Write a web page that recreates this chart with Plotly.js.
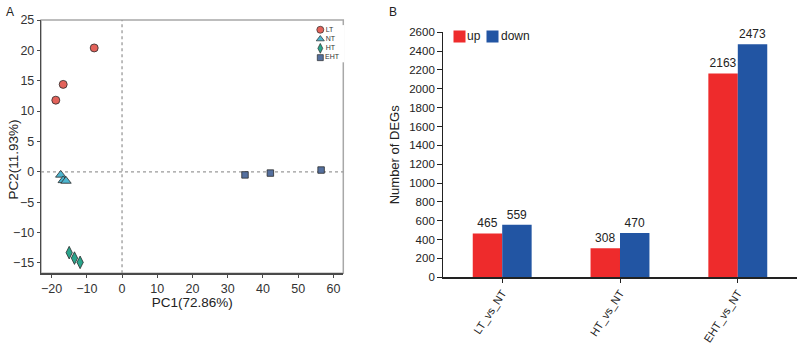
<!DOCTYPE html>
<html>
<head>
<meta charset="utf-8">
<script src="https://cdn.plot.ly/plotly-3.0.1.min.js"></script>
<style>
  html, body { margin: 0; padding: 0; background: #fff; }
  #chart { width: 797px; height: 346px; }
</style>
</head>
<body>
<div id="chart"></div>
<script>
// ---- PCA scores (panel A) ----
const groups = ['LT', 'NT', 'HT', 'EHT'];
const pc1_LT  = [-18.8, -16.7, -7.9];
const pc2_LT  = [11.8, 14.4, 20.4];
const pc1_NT  = [-17.4, -16.7, -15.9];
const pc2_NT  = [-0.5, -1.4, -1.5];
const pc1_HT  = [-15.0, -13.5, -11.9];
const pc2_HT  = [-13.3, -14.2, -14.9];
const pc1_EHT = [34.9, 42.1, 56.5];
const pc2_EHT = [-0.5, -0.2, 0.3];

// ---- DEG counts (panel B) ----
const comparisons = ['LT_vs_NT', 'HT_vs_NT', 'EHT_vs_NT'];
const degUp   = [465, 308, 2163];
const degDown = [559, 470, 2473];
const seriesNames = ['up', 'down'];

const groupStyle = {
  LT:  {symbol: 'circle',       color: '#e3625a', size: 8},
  NT:  {symbol: 'triangle-up',  color: '#4cb5cf', size: 9},
  HT:  {symbol: 'diamond-tall', color: '#2aa58c', size: 9},
  EHT: {symbol: 'square',       color: '#55709f', size: 6.5}
};
const barColors = {up: '#ee2b2c', down: '#2255a3'};

const pcX = {LT: pc1_LT, NT: pc1_NT, HT: pc1_HT, EHT: pc1_EHT};
const pcY = {LT: pc2_LT, NT: pc2_NT, HT: pc2_HT, EHT: pc2_EHT};

const font = 'Liberation Sans, Arial, sans-serif';
const W = 797, H = 346;
const px = v => v / W;
const py = v => 1 - v / H;

const traces = [];

// PCA scatter
groups.forEach(g => {
  const s = groupStyle[g];
  traces.push({
    type: 'scatter', mode: 'markers', name: g,
    x: pcX[g], y: pcY[g], xaxis: 'x', yaxis: 'y',
    marker: {symbol: s.symbol, color: s.color, size: s.size,
             line: {color: '#2b2b2b', width: 0.8}},
    cliponaxis: false, showlegend: false, hoverinfo: 'x+y+name'
  });
});

// compact key for the PCA groups, drawn on its own small axes
groups.forEach(g => {
  const s = groupStyle[g];
  traces.push({
    type: 'scatter', mode: 'markers+text',
    x: [0], y: [g], xaxis: 'x3', yaxis: 'y3',
    text: [g], textposition: 'middle right',
    textfont: {family: font, size: 7, color: '#333'},
    marker: {symbol: s.symbol, color: s.color,
             size: s.symbol === 'square' ? 6 : 7,
             line: {color: '#2b2b2b', width: 0.7}},
    cliponaxis: false, showlegend: false, hoverinfo: 'skip'
  });
});

// DEG bars
[[seriesNames[0], degUp], [seriesNames[1], degDown]].forEach(([name, vals]) => {
  traces.push({
    type: 'bar', name: name, x: comparisons, y: vals,
    xaxis: 'x2', yaxis: 'y2',
    marker: {color: barColors[name], line: {width: 0}},
    text: vals.map(String), textposition: 'outside',
    textfont: {family: font, size: 12, color: '#222'},
    cliponaxis: false, showlegend: false
  });
});

const axisFont = {family: font, size: 12.5, color: '#333'};

const layout = {
  width: W, height: H,
  margin: {l: 0, r: 0, t: 0, b: 0},
  paper_bgcolor: '#fff', plot_bgcolor: '#fff',
  font: {family: font, color: '#222'},
  showlegend: false,
  barmode: 'group', bargap: 0.5, bargroupgap: 0,
  xaxis: {
    domain: [px(41), px(343.3)], anchor: 'y',
    range: [-23, 62.8], tick0: -20, dtick: 10,
    showgrid: false, zeroline: false,
    showline: true, linecolor: '#4a4a4a', linewidth: 1.2,
    ticks: 'outside', ticklen: 3, tickcolor: '#4a4a4a',
    tickfont: axisFont,
    title: {text: 'PC1(72.86%)', font: {family: font, size: 13.5, color: '#222'}, standoff: 3}
  },
  yaxis: {
    domain: [py(273.3), py(20)], anchor: 'x',
    range: [-16.7, 25], tick0: -15, dtick: 5,
    showgrid: false, zeroline: false,
    showline: true, linecolor: '#4a4a4a', linewidth: 1.2,
    ticks: 'outside', ticklen: 3, tickcolor: '#4a4a4a',
    tickfont: axisFont
  },
  xaxis3: {domain: [px(320.3), px(344)], anchor: 'y3', range: [0, 1],
           visible: false, fixedrange: true},
  yaxis3: {domain: [py(62.3), py(25.1)], anchor: 'x3', type: 'category',
           categoryarray: groups, range: [3.5, -0.5],
           visible: false, fixedrange: true},
  xaxis2: {
    domain: [px(443.3), px(796.7)], anchor: 'y2',
    type: 'category', range: [-0.5, 2.5],
    showgrid: false, zeroline: false,
    showline: true, linecolor: '#222', linewidth: 1.2,
    ticks: 'outside', ticklen: 4, tickcolor: '#222',
    tickangle: -57,
    tickfont: {family: font, size: 11, color: '#222'}
  },
  yaxis2: {
    domain: [py(277.3), py(32.3)], anchor: 'x2',
    range: [0, 2600], dtick: 200,
    showgrid: false, zeroline: false,
    showline: true, linecolor: '#222', linewidth: 1.2,
    ticks: 'outside', ticklen: 5, tickcolor: '#222',
    tickfont: {family: font, size: 11.5, color: '#222'},
    title: {text: 'Number of DEGs', font: {family: font, size: 13, color: '#222'}, standoff: 6}
  },
  shapes: [
    // light frame on top/right of the PCA panel
    {type: 'rect', xref: 'x domain', yref: 'y domain', x0: 0, x1: 1, y0: 0, y1: 1,
     line: {color: '#a8a8a8', width: 1.5}, layer: 'below'},
    // origin reference lines
    {type: 'line', xref: 'x', yref: 'y domain', x0: 0, x1: 0, y0: 0, y1: 1,
     line: {color: '#9a9a9a', width: 1.3, dash: 'dot'}, layer: 'below'},
    {type: 'line', xref: 'x domain', yref: 'y', x0: 0, x1: 1, y0: 0, y1: 0,
     line: {color: '#9a9a9a', width: 1.3, dash: 'dot'}, layer: 'below'}
  ],
  annotations: [
    {text: 'A', xref: 'paper', yref: 'paper', x: px(3.5), y: py(3), xanchor: 'left', yanchor: 'top',
     showarrow: false, font: {family: font, size: 12, color: '#222'}},
    {text: 'B', xref: 'paper', yref: 'paper', x: px(386.5), y: py(3), xanchor: 'left', yanchor: 'top',
     showarrow: false, font: {family: font, size: 12, color: '#222'}},
    // PC2 axis title
    {text: 'PC2(11.93%)', xref: 'paper', yref: 'paper', x: px(12.5), y: py(160),
     xanchor: 'center', yanchor: 'middle', textangle: -90, showarrow: false,
     font: {family: font, size: 13.5, color: '#222'}}
  ]
};

// key for the bar series
const keyPos = [{box: 453.3, label: 465.5}, {box: 486, label: 499}];
seriesNames.forEach((name, i) => {
  layout.annotations.push({
    text: '\u00a0', xref: 'paper', yref: 'paper', x: px(keyPos[i].box), y: py(36.3),
    xanchor: 'left', yanchor: 'middle', showarrow: false,
    width: 11, height: 11, borderpad: 0, bgcolor: barColors[name],
    font: {size: 6}
  });
  layout.annotations.push({
    text: name, xref: 'paper', yref: 'paper', x: px(keyPos[i].label), y: py(35.8),
    xanchor: 'left', yanchor: 'middle', showarrow: false,
    font: {family: font, size: 12, color: '#222'}
  });
});

Plotly.newPlot('chart', traces, layout, {staticPlot: true, displayModeBar: false});
</script>
</body>
</html>
